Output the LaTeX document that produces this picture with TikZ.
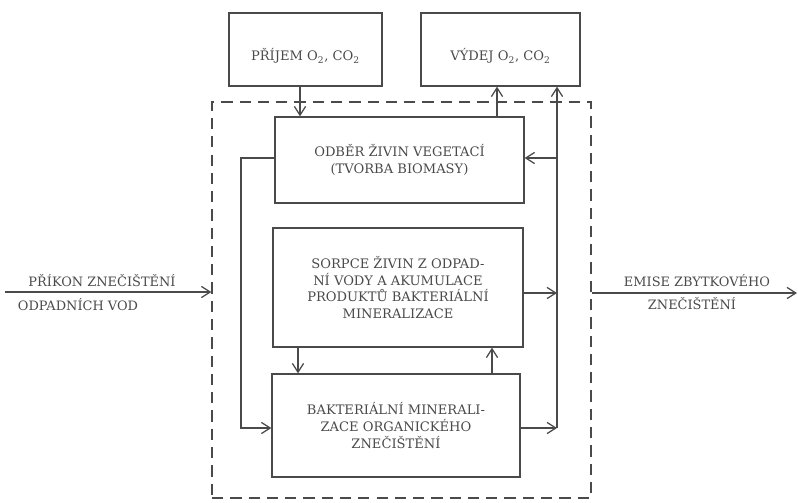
\documentclass[tikz,border=0pt]{standalone}
\usepackage{fontspec}
\setmainfont{DejaVu Serif}
\usetikzlibrary{arrows.meta,positioning,calc}
\definecolor{SchemeInk}{HTML}{4A4A4A}

\begin{document}
\begin{tikzpicture}[x=0.025cm,y=-0.025cm,
    line width=0.9pt,
    box/.style={draw=SchemeInk,rectangle,align=center,text=SchemeInk,
      font=\fontsize{9.3}{12}\selectfont,inner sep=0pt},
    label/.style={text=SchemeInk,font=\fontsize{9.2}{12}\selectfont,inner sep=0pt},
    frame/.style={draw=SchemeInk,dash pattern=on 8pt off 5pt,rectangle,inner sep=0pt},
    arrow/.style={-{Straight Barb[length=2.2mm,width=2.8mm]},draw=SchemeInk}
  ]
    \useasboundingbox (0,0) rectangle (798,502);
    \node[frame,minimum width=379*0.025cm,minimum height=396*0.025cm] (system) at (401.5,300) {};
    \node[box,minimum width=153*0.025cm,minimum height=73*0.025cm] (prijem) at (305.5,49.5) {\raisebox{-8pt}[0pt][0pt]{PŘÍJEM O\textsubscript{2}, CO\textsubscript{2}}};
    \node[box,minimum width=159*0.025cm,minimum height=73*0.025cm] (vydej) at (500.5,49.5) {\raisebox{-8pt}[0pt][0pt]{VÝDEJ O\textsubscript{2}, CO\textsubscript{2}}};
    \node[box,minimum width=249*0.025cm,minimum height=86*0.025cm] (odber) at (399.5,160) {ODBĚR ŽIVIN VEGETACÍ\\(TVORBA BIOMASY)};
    \node[box,minimum width=250*0.025cm,minimum height=119*0.025cm] (sorpce) at (398,287.5) {SORPCE ŽIVIN Z ODPAD-\\NÍ VODY A AKUMULACE\\PRODUKTŮ BAKTERIÁLNÍ\\MINERALIZACE};
    \node[box,minimum width=248*0.025cm,minimum height=103*0.025cm] (mineral) at (396,425.5) {BAKTERIÁLNÍ MINERALI-\\ZACE ORGANICKÉHO\\ZNEČIŠTĚNÍ};
    \node[label] (intop) at (102,281) {PŘÍKON ZNEČIŠTĚNÍ};
    \node[label] (inbot) at (78,305) {ODPADNÍCH VOD};
    \node[label] (outtop) at (697,281) {EMISE ZBYTKOVÉHO};
    \node[label] (outbot) at (692,304) {ZNEČIŠTĚNÍ};
    \coordinate (inflow) at (5,292);
    \coordinate (outflow) at (797,293);
    \coordinate (upin) at (300,0);
    \coordinate (upout) at (497,0);
    \coordinate (down) at (298,0);
    \coordinate (up) at (492,0);
    \coordinate (lbus1) at (241,158);
    \coordinate (lbus3) at (241,428);
    \coordinate (rbus1) at (557,158);
    \coordinate (rbus2) at (557,293);
    \coordinate (rbus3) at (557,428);
    \draw[arrow] (inflow) -- (inflow -| system.west);
    \draw[arrow] (outflow -| system.east) -- (outflow);
    \draw[arrow] (prijem.south -| upin) -- (odber.north -| upin);
    \draw[arrow] (odber.north -| upout) -- (vydej.south -| upout);
    \draw[arrow] (sorpce.south -| down) -- (mineral.north -| down);
    \draw[arrow] (mineral.north -| up) -- (sorpce.south -| up);
    \draw[arrow] (odber.west |- lbus1) -- (lbus1) -- (lbus3) -- (mineral.west |- lbus3);
    \draw[arrow] (mineral.east |- rbus3) -- (rbus3);
    \draw[arrow] (sorpce.east |- rbus2) -- (rbus2);
    \draw[arrow] (rbus3) -- (rbus3 |- vydej.south);
    \draw[arrow] (rbus1) -- (odber.east |- rbus1);
\end{tikzpicture}
\end{document}
